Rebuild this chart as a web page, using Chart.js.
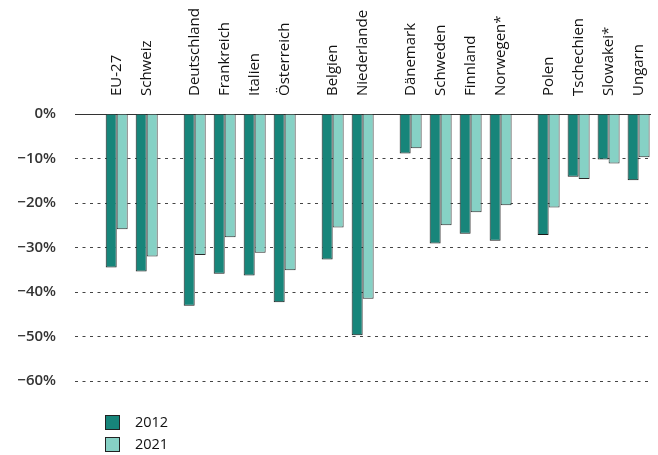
<!DOCTYPE html>
<html>
<head>
<meta charset="utf-8">
<script src="https://cdn.jsdelivr.net/npm/chart.js"></script>
<style>
  html, body { margin: 0; padding: 0; background: #fff; }
  .chart-container { position: relative; width: 658px; height: 455px; }
</style>
</head>
<body>
<div class="chart-container">
  <canvas id="changeChart"></canvas>
</div>
<script>
// country groups (gaps are drawn between groups)
var groups = [
  ['EU-27', 'Schweiz'],
  ['Deutschland', 'Frankreich', 'Italien', 'Österreich'],
  ['Belgien', 'Niederlande'],
  ['Dänemark', 'Schweden', 'Finnland', 'Norwegen*'],
  ['Polen', 'Tschechien', 'Slowakei*', 'Ungarn']
];
var years = ['2012', '2021'];
var values2012 = [-34.5, -35.4, -43.1, -35.9, -36.3, -42.3, -32.7, -49.7, -8.9, -29.1, -26.9, -28.5, -27.2, -14.1, -10.2, -14.9];
var values2021 = [-25.9, -32.0, -31.7, -27.7, -31.2, -35.1, -25.5, -41.5, -7.7, -25.0, -22.1, -20.5, -21.0, -14.6, -11.1, -9.7];
var yTicks = [0, -10, -20, -30, -40, -50, -60];

var darkTeal = '#17857a';
var lightTeal = '#86d1c5';
var fontFamily = '"Open Sans", "DejaVu Sans", sans-serif';

// x position of each country: one unit per country, extra gap between groups
var groupGap = 0.6;
var countries = [];
var positions = [];
groups.forEach(function (g, gi) {
  g.forEach(function (name) {
    positions.push(countries.length + gi * groupGap);
    countries.push(name);
  });
});

function toPoints(vals) {
  return vals.map(function (v, i) { return { x: positions[i], y: v }; });
}

var legendPlugin = {
  id: 'stackedLegend',
  afterDraw: function (chart) {
    var ctx = chart.ctx;
    ctx.save();
    chart.data.datasets.forEach(function (ds, i) {
      var top = 415 + i * 22;
      ctx.fillStyle = ds.backgroundColor;
      ctx.fillRect(105, top, 15, 15);
      ctx.strokeStyle = '#222';
      ctx.lineWidth = 1;
      ctx.strokeRect(105.5, top + 0.5, 14, 14);
      ctx.fillStyle = '#111';
      ctx.font = '14.5px ' + fontFamily;
      ctx.textBaseline = 'middle';
      ctx.textAlign = 'left';
      ctx.fillText(ds.label, 135, top + 8);
    });
    ctx.restore();
  }
};

var ctx = document.getElementById('changeChart').getContext('2d');
var chart = new Chart(ctx, {
  type: 'bar',
  data: {
    datasets: [
      { label: years[0], data: toPoints(values2012), backgroundColor: darkTeal, borderColor: '#1a1a1a', borderWidth: 1 },
      { label: years[1], data: toPoints(values2021), backgroundColor: lightTeal, borderColor: '#2a2a2a', borderWidth: 1 }
    ]
  },
  options: {
    responsive: true,
    maintainAspectRatio: false,
    animation: false,
    categoryPercentage: 0.733,
    barPercentage: 1.0,
    layout: { padding: { top: 0, right: 8, bottom: 74, left: 0 } },
    plugins: {
      legend: { display: false },
      tooltip: { enabled: false }
    },
    scales: {
      x: {
        type: 'linear',
        position: 'top',
        offset: false,
        min: -1.39,
        max: 17.78,
        grid: { display: false, drawTicks: false },
        border: { display: true, color: '#333', width: 1 },
        afterBuildTicks: function (scale) {
          scale.ticks = positions.map(function (p) { return { value: p }; });
        },
        afterFit: function (scale) { scale.height = 114; },
        ticks: {
          autoSkip: false,
          minRotation: 90,
          maxRotation: 90,
          padding: 18,
          labelOffset: 18,
          color: '#111',
          font: { family: fontFamily, size: 15 },
          callback: function (value, index) { return countries[index]; }
        }
      },
      y: {
        min: -60,
        max: 0,
        afterBuildTicks: function (scale) {
          scale.ticks = yTicks.map(function (v) { return { value: v }; });
        },
        afterFit: function (scale) { scale.width = 75; },
        grid: {
          drawTicks: false,
          color: function (c) { return c.tick && c.tick.value === 0 ? 'rgba(0,0,0,0)' : '#444'; },
          lineWidth: 1
        },
        border: { display: false, dash: [3, 4.5] },
        ticks: {
          padding: 19,
          color: '#333',
          font: { family: fontFamily, size: 15, weight: '600' },
          callback: function (value) {
            return value === 0 ? '0%' : '\u2212' + Math.abs(value) + '%';
          }
        }
      }
    }
  },
  plugins: [legendPlugin]
});
</script>
</body>
</html>
